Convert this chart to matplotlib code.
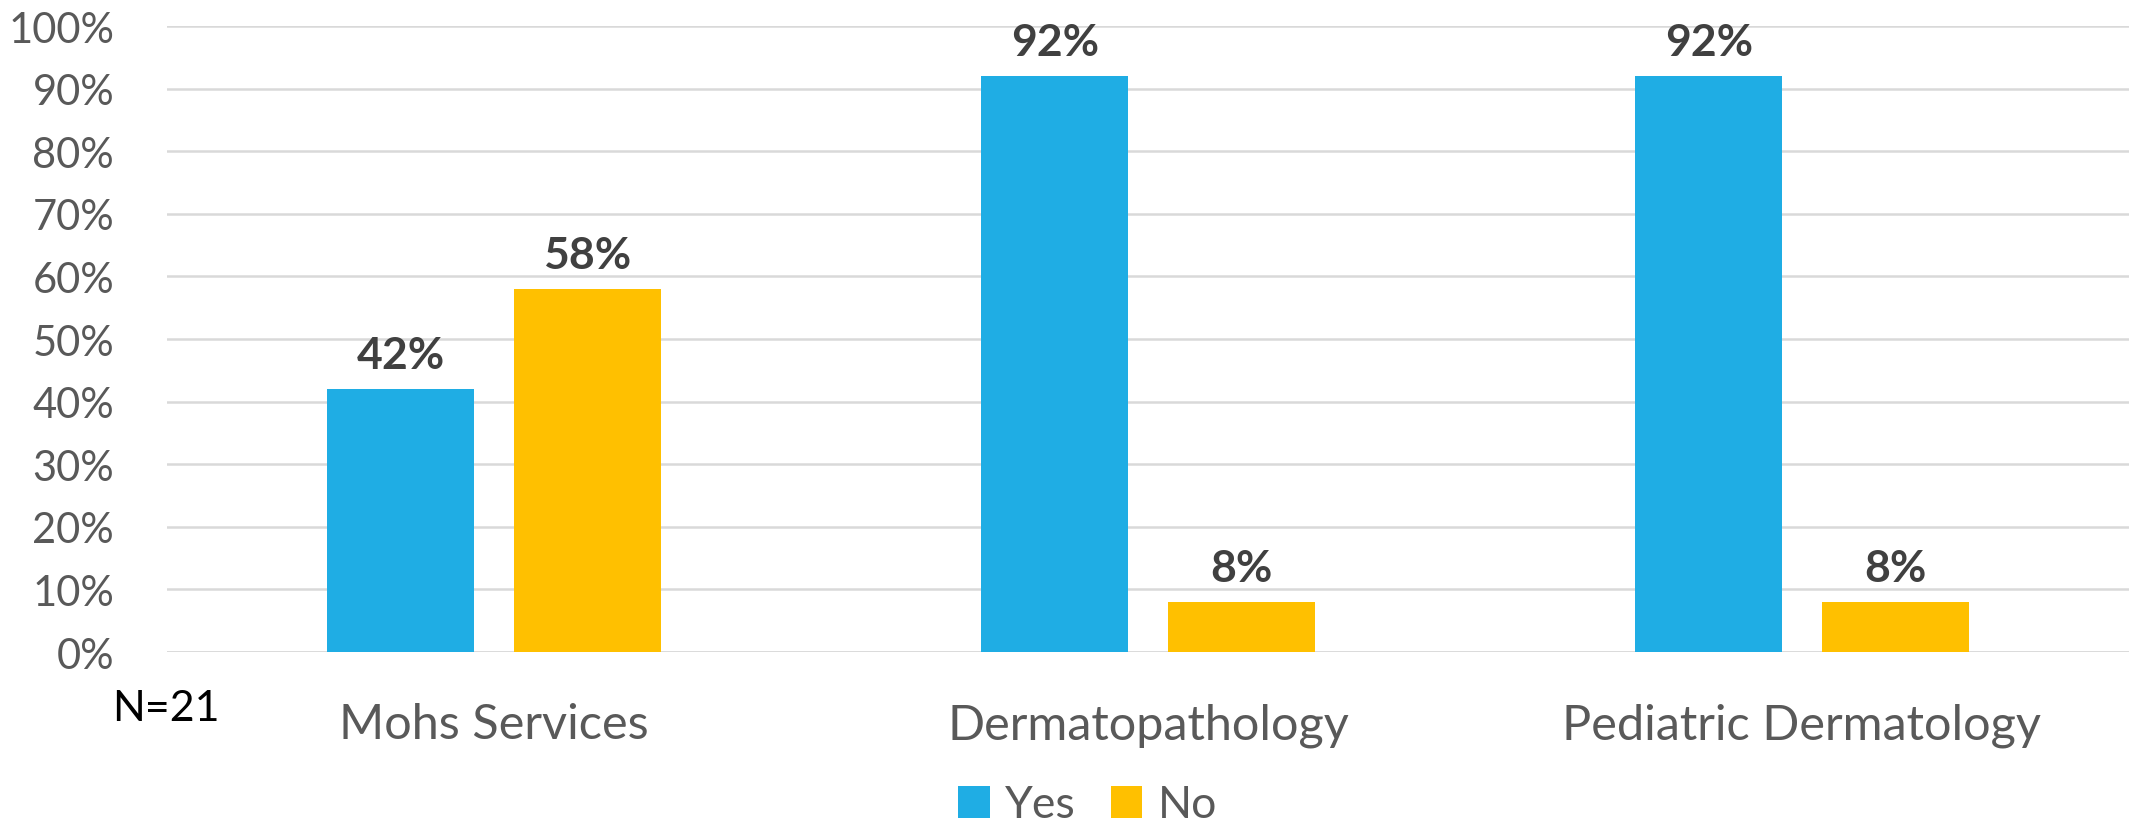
import numpy as np
import matplotlib
matplotlib.use('Agg')
import matplotlib.pyplot as plt
from matplotlib.patches import Patch

# Survey results: share of practices offering each service
categories = ['Mohs Services', 'Dermatopathology', 'Pediatric Dermatology']
yes_values = [42, 92, 92]
no_values = [58, 8, 8]
series_names = ['Yes', 'No']
y_ticks = [0, 10, 20, 30, 40, 50, 60, 70, 80, 90, 100]
sample_note = 'N=21'

color_yes = '#1FADE4'
color_no = '#FFC000'
label_gray = '#595959'
value_gray = '#404040'
grid_gray = '#D9D9D9'

plt.rcParams['font.family'] = ['Lato', 'DejaVu Sans']

fig = plt.figure(figsize=(21.29, 8.29), dpi=100)
ax = fig.add_axes([0.0784, 0.2123, 0.9216, 0.7551])

x = np.arange(len(categories))
bar_w = 0.225
offset = 0.1425

bars_yes = ax.bar(x - offset, yes_values, width=bar_w, color=color_yes, zorder=3)
bars_no = ax.bar(x + offset, no_values, width=bar_w, color=color_no, zorder=3)

# value labels on top of each bar
for bars, vals in ((bars_yes, yes_values), (bars_no, no_values)):
    for b, v in zip(bars, vals):
        ax.annotate('{:d}%'.format(v), (b.get_x() + b.get_width() / 2, v),
                    xytext=(0, 10), textcoords='offset points',
                    ha='center', va='bottom', fontsize=32, fontweight='bold',
                    color=value_gray)

ax.set_xlim(-0.5, len(categories) - 0.5)
ax.set_ylim(0, 100)
ax.set_yticks(y_ticks)
ax.set_yticklabels(['{:d}%'.format(t) for t in y_ticks])
ax.set_xticks(x)
ax.set_xticklabels(categories)

ax.tick_params(axis='y', length=0, labelsize=30, labelcolor=label_gray, pad=38)
ax.tick_params(axis='x', length=0, labelsize=35, labelcolor=label_gray, pad=36)

ax.yaxis.grid(True, color=grid_gray, linewidth=1.8, zorder=0)
ax.set_axisbelow(True)
for side in ('top', 'right', 'left', 'bottom'):
    ax.spines[side].set_visible(False)
ax.axhline(0, color=grid_gray, linewidth=1.8, zorder=1)

fig.text(166 / 2129, 1 - 709 / 829, sample_note, ha='center', va='center',
         fontsize=31, color='black')

handles = [Patch(facecolor=color_yes), Patch(facecolor=color_no)]
fig.legend(handles, series_names, loc='center', bbox_to_anchor=(0.511, 1 - 806 / 829),
           ncol=2, frameon=False, fontsize=32, labelcolor=label_gray,
           handlelength=0.7, handleheight=0.7, handletextpad=0.35,
           columnspacing=0.8, borderaxespad=0, borderpad=0)

fig.savefig('out.png', dpi=100)
plt.close()
